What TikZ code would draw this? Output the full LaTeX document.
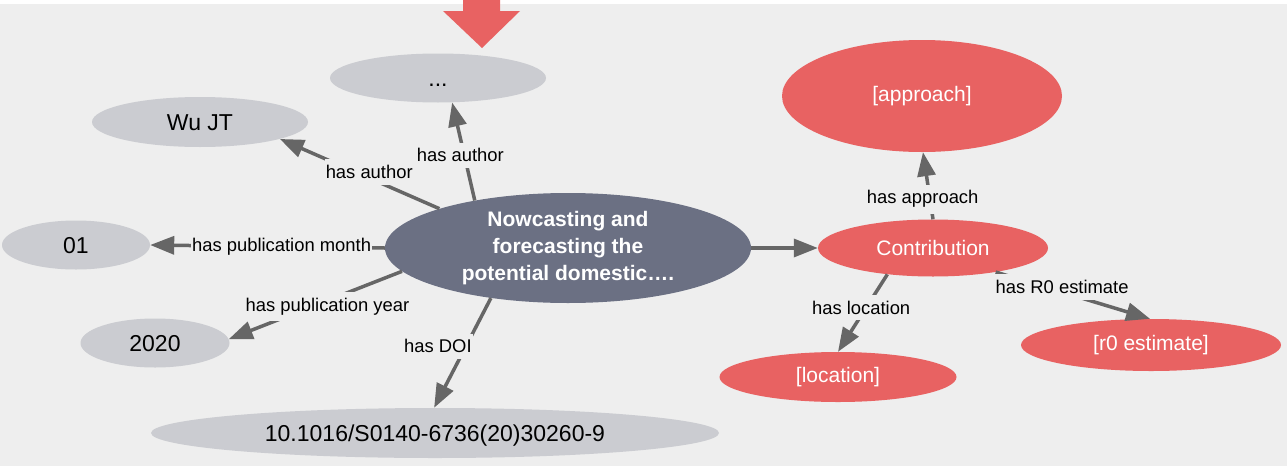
\documentclass[tikz,border=0pt]{standalone}
\usepackage{fontspec}
\setmainfont{Liberation Sans}
\usetikzlibrary{shapes.geometric, arrows.meta}

\definecolor{canvasbg}{HTML}{EEEEEE}
\definecolor{litgray}{HTML}{CBCCD1}
\definecolor{papernode}{HTML}{6B7083}
\definecolor{resred}{HTML}{E86262}
\definecolor{edgegray}{HTML}{666666}

\tikzset{
  literal/.style={ellipse, fill=litgray, inner sep=0pt, text=black, text height=17pt, text depth=0pt, font=\fontsize{23}{27}\selectfont},
  paper/.style={ellipse, fill=papernode, inner sep=0pt, text=white, align=center, font=\fontsize{21}{26.7}\selectfont\bfseries},
  resource/.style={ellipse, fill=resred, inner sep=0pt, text=white, font=\fontsize{21}{25}\selectfont},
  rel/.style={draw=edgegray, line width=3.5pt, -{Triangle[length=24pt, width=18pt]}},
  rellabel/.style={fill=canvasbg, inner xsep=1pt, inner ysep=6pt, text=black, font=\fontsize{18.4}{22}\selectfont}
}

\begin{document}
\begin{tikzpicture}[x=1pt, y=-1pt]
  \useasboundingbox (0, 0) rectangle (1287, 466);
  \fill[white] (0, 0) rectangle (1287, 466);
  \fill[canvasbg] (0, 4) rectangle (1287, 466);
  % Nodes
  \node (paper) [paper, minimum width=366pt, minimum height=110pt] at (568, 248) {Nowcasting and\\forecasting the\\potential domestic\dots.};
  \node (author-more) [literal, minimum width=216pt, minimum height=49pt] at (438, 78) {...};
  \node (author-wu) [literal, minimum width=216pt, minimum height=50pt] at (200, 122) {Wu JT};
  \node (month) [literal, minimum width=148pt, minimum height=49pt] at (76, 245) {01};
  \node (year) [literal, minimum width=149pt, minimum height=49pt] at (155, 343) {2020};
  \node (doi) [literal, minimum width=568pt, minimum height=50pt] at (435, 433) {10.1016/S0140-6736(20)30260-9};
  \node (contribution) [resource, minimum width=230pt, minimum height=57pt] at (933, 248) {Contribution};
  \node (approach) [resource, minimum width=280pt, minimum height=112pt] at (922, 96) {[approach]};
  \node (location) [resource, minimum width=237pt, minimum height=50pt] at (838, 377) {[location]};
  \node (r0) [resource, minimum width=260pt, minimum height=52pt] at (1151, 345) {[r0 estimate]};
  % Arrow
  \draw[rel] (paper.153) to node[rellabel, pos=0.46, xshift=-4pt] {has author} (author-more.-60);
  \draw[rel] (paper.163) to node[rellabel, pos=0.44, yshift=6pt] {has author} (author-wu.-12);
  \draw[rel] (paper.180) to node[rellabel, pos=0.44] {has publication month} (month.0);
  \draw[rel] (paper.188) to node[rellabel, pos=0.43, yshift=-6pt] {has publication year} (year.3);
  \draw[rel] (paper.213) to node[rellabel, pos=0.44, xshift=-28pt] {has DOI} (doi.92);
  \draw[rel] (paper.0) to (contribution.180);
  \draw[rel] (contribution.90) to node[rellabel, pos=0.33, xshift=-7pt, yshift=-2pt] {has approach} (approach.-89);
  \draw[rel] (contribution.210) to node[rellabel, pos=0.43, xshift=-5pt] {has location} (location.90);
  \draw[rel] (contribution.-21) to node[rellabel, pos=0.43, yshift=5pt] {has R0 estimate} (r0.92);
  % Header
  \fill[resred] (463, 0) -- (500, 0) -- (500, 11) -- (520, 11) -- (482, 48) -- (443, 11) -- (463, 11) -- cycle;
\end{tikzpicture}
\end{document}
